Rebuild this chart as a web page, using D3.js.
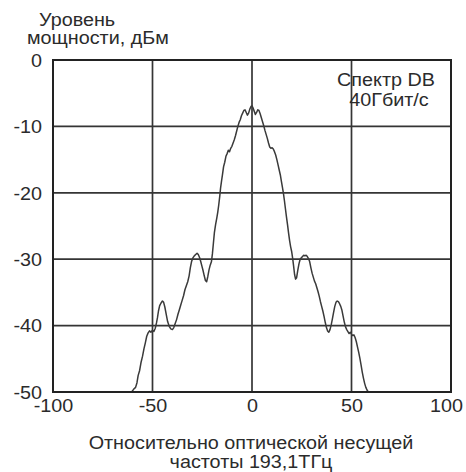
<!DOCTYPE html>
<html>
<head>
<meta charset="utf-8">
<script src="https://cdn.jsdelivr.net/npm/d3@7"></script>
<style>
  html, body { margin: 0; padding: 0; background: #fff; }
  svg { display: block; }
  text { font-family: "Liberation Sans", Arial, sans-serif; fill: #2b2b2b; }
</style>
</head>
<body>
<svg id="chart" width="466" height="472"></svg>
<script>
// Spectrum of a 40 Gbit/s duobinary (DB) signal, power vs. offset from the optical carrier
const freqOffset = [
  -60.5, -59.5, -58.5, -57.8, -57.2, -56.5, -55.8, -55.0, -54.3, -53.6, -52.9, -52.2, -51.5, -50.8, -50.0,
  -49.3, -48.6, -48.0, -47.5, -47.0, -46.4, -45.7, -45.0, -44.4, -43.8, -43.1, -42.4, -41.6, -40.8, -40.0,
  -39.3, -38.6, -37.9, -37.2, -36.5, -35.8, -35.1, -34.4, -33.7, -33.0, -32.3, -31.6, -31.0, -30.4, -29.7,
  -29.0, -28.3, -27.6, -27.0, -26.4, -25.8, -25.2, -24.6, -24.0, -23.4, -22.8, -22.2, -21.6, -21.0, -20.4,
  -19.9, -19.4, -18.9, -18.3, -17.7, -17.2, -16.7, -16.2, -15.8, -15.3, -14.8, -14.3, -13.7, -13.1, -12.5,
  -11.9, -11.3, -10.7, -10.1, -9.5, -8.9, -8.3, -7.7, -7.1, -6.5, -5.9, -5.3, -4.7, -4.1, -3.5,
  -2.9, -2.3, -1.7, -1.1, -0.5, 0.0,
  0.5, 1.1, 1.7, 2.3, 2.9, 3.5, 4.1, 4.7, 5.3, 5.9, 6.5, 7.1, 7.7, 8.3, 8.9,
  9.5, 10.1, 10.7, 11.3, 11.9, 12.5, 13.1, 13.7, 14.3, 14.8, 15.3, 15.8, 16.3, 16.8, 17.3,
  17.9, 18.4, 18.9, 19.4, 19.9, 20.4, 20.9, 21.4, 21.9, 22.4, 23.0, 23.6, 24.2, 24.8, 25.4,
  26.0, 26.6, 27.2, 27.8, 28.4, 29.0, 29.6, 30.2, 30.8, 31.4, 32.0, 32.6, 33.2, 33.8, 34.4,
  35.0, 35.6, 36.2, 36.8, 37.4, 38.0, 38.6, 39.2, 39.8, 40.4, 41.0, 41.6, 42.2, 42.8, 43.4,
  44.0, 44.6, 45.2, 45.8, 46.4, 47.0, 47.6, 48.2, 48.8, 49.4, 50.0, 50.6, 51.2, 51.8, 52.4,
  53.0, 53.6, 54.2, 54.8, 55.4, 56.0, 56.6, 57.2, 57.8, 58.4
];
const powerDbm = [
  -50.0, -49.6, -49.3, -48.6, -47.5, -46.8, -45.6, -44.6, -43.5, -42.6, -41.6, -41.1, -40.8, -41.0, -40.7,
  -40.9, -40.4, -39.6, -38.8, -37.8, -37.0, -36.6, -36.3, -36.5, -37.2, -38.3, -39.4, -40.1, -40.5, -40.6,
  -40.3, -39.7, -39.1, -38.3, -37.6, -36.9, -36.2, -35.5, -34.6, -34.0, -33.4, -32.5, -31.3, -30.4, -29.8,
  -29.5, -29.3, -29.1, -29.3, -29.7, -30.3, -31.0, -31.7, -32.5, -33.2, -33.4, -32.6, -31.6, -30.9, -30.4,
  -29.2, -27.6, -26.0, -24.8, -23.8, -22.9, -21.8, -20.5, -19.3, -18.2, -17.2, -16.1, -15.4, -14.5, -14.1,
  -13.6, -13.8, -13.3, -13.0, -12.5, -12.0, -11.4, -10.7, -10.0, -9.4, -9.0, -8.4, -8.0, -7.6, -7.5,
  -7.9, -8.3, -8.0, -7.4, -7.0, -6.9,
  -7.2, -7.7, -8.2, -7.9, -7.5, -7.6, -8.1, -8.7, -9.3, -9.9, -10.6, -11.2, -11.8, -12.5, -13.1,
  -13.3, -13.2, -13.4, -13.8, -14.3, -15.0, -15.8, -16.6, -17.4, -18.3, -19.2, -20.1, -21.2, -22.4, -23.6,
  -24.9, -26.1, -27.2, -28.1, -28.8, -29.8, -31.0, -32.3, -33.0, -32.8, -31.7, -30.7, -30.0, -29.8, -29.6,
  -29.4, -29.5, -29.4, -29.6, -29.9, -30.4, -31.3, -32.1, -32.7, -33.3, -33.7, -34.3, -34.9, -35.6, -36.4,
  -37.1, -37.8, -38.6, -39.5, -40.3, -40.8, -41.0, -40.6, -39.9, -39.0, -38.0, -37.1, -36.5, -36.3, -36.4,
  -36.7, -37.1, -37.7, -38.6, -39.5, -40.2, -40.6, -40.9, -41.2, -41.0, -41.3, -41.5, -41.4, -41.8, -42.4,
  -43.2, -44.0, -44.9, -45.9, -47.0, -47.9, -48.7, -49.3, -49.7, -50.0
];
const xTicks = [-100, -50, 0, 50, 100];
const yTicks = [0, -10, -20, -30, -40, -50];
const yTitleLines = ["Уровень", "мощности, дБм"];
const xTitleLines = ["Относительно оптической несущей", "частоты 193,1ТГц"];
const noteLines = ["Спектр DB", "40Гбит/с"];

const FONT = 17.5;
const STRETCH = 1.13;   // glyphs are drawn slightly wide

const svg = d3.select("#chart");
const m = { left: 53, top: 60, right: 15, bottom: 80 };
const W = 466 - m.left - m.right;
const H = 472 - m.top - m.bottom;

const x = d3.scaleLinear().domain([-100, 100]).range([0, W]);
const y = d3.scaleLinear().domain([-50, 0]).range([H, 0]);

const g = svg.append("g").attr("transform", `translate(${m.left},${m.top})`);

// places a wide-set text label with its anchor at (px, py)
function label(parent, str, px, py, anchor) {
  return parent.append("text")
    .attr("transform", `translate(${px},${py}) scale(${STRETCH},1)`)
    .attr("text-anchor", anchor)
    .attr("font-size", FONT)
    .text(str);
}

// grid lines (inner ones only)
g.append("g").selectAll("line").data(xTicks.filter(t => t > -100 && t < 100)).join("line")
  .attr("x1", d => x(d)).attr("x2", d => x(d)).attr("y1", 0).attr("y2", H)
  .attr("stroke", "#353535").attr("stroke-width", 1.7);
g.append("g").selectAll("line").data(yTicks.filter(t => t > -50 && t < 0)).join("line")
  .attr("y1", d => y(d)).attr("y2", d => y(d)).attr("x1", 0).attr("x2", W)
  .attr("stroke", "#353535").attr("stroke-width", 1.7);

// axes: labels only, no tick marks
const xAxis = g.append("g").attr("transform", `translate(0,${H})`)
  .call(d3.axisBottom(x).tickValues(xTicks).tickSize(0).tickFormat(d => String(d)));
const yAxis = g.append("g")
  .call(d3.axisLeft(y).tickValues(yTicks).tickSize(0).tickFormat(d => String(d)));
[xAxis, yAxis].forEach(a => {
  a.select(".domain").remove();
  a.selectAll("text")
    .attr("font-size", FONT)
    .attr("font-family", "Liberation Sans, Arial, sans-serif")
    .attr("fill", "#2b2b2b");
});
xAxis.selectAll("text").attr("y", 20).attr("dy", null)
  .attr("x", d => d === 100 ? -5 / STRETCH : 0)   // keep the last label inside the page
  .attr("transform", `scale(${STRETCH},1)`);
yAxis.selectAll("text").attr("x", -11 / STRETCH).attr("dy", "0.36em")
  .attr("transform", `scale(${STRETCH},1)`);

// spectrum trace
const pts = freqOffset.map((f, i) => [f, powerDbm[i]]);
g.append("path").datum(pts)
  .attr("fill", "none").attr("stroke", "#3a3a3a").attr("stroke-width", 1.5)
  .attr("stroke-linejoin", "round")
  .attr("d", d3.line().x(d => x(d[0])).y(d => y(d[1])));

// plot frame
g.append("rect").attr("x", 0).attr("y", 0).attr("width", W).attr("height", H)
  .attr("fill", "none").attr("stroke", "#222").attr("stroke-width", 2);

// y-axis title (two lines, left-aligned with a small indent on the first)
label(svg, yTitleLines[0], 39, 25.5, "start");
label(svg, yTitleLines[1], 27, 44, "start");

// annotation in top-right corner of the plot
label(g, noteLines[0], 333, 26, "middle");
label(g, noteLines[1], 336, 46, "middle");

// x-axis title
xTitleLines.forEach((t, i) => label(svg, t, 251, 449 + i * 19, "middle"));
</script>
</body>
</html>
